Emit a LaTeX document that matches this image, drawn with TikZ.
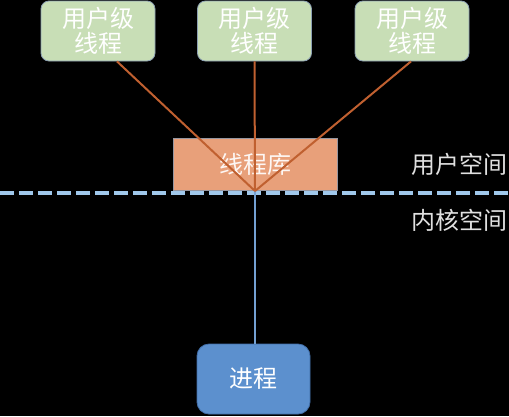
\documentclass[tikz,border=0pt]{standalone}
\usepackage{fontspec}
\newfontfamily\cjk{Noto Sans CJK SC}
\definecolor{ulgreen}{RGB}{200,222,182}
\definecolor{ulborder}{RGB}{140,160,178}
\definecolor{libfill}{RGB}{232,160,122}
\definecolor{libborder}{RGB}{150,150,160}
\definecolor{linkred}{RGB}{192,96,48}
\definecolor{dashblue}{RGB}{160,200,235}
\definecolor{procfill}{RGB}{92,144,206}
\definecolor{procborder}{RGB}{66,110,168}
\definecolor{procline}{RGB}{115,160,210}
\tikzset{
  ulbox/.style={draw=ulborder, fill=ulgreen, rounded corners=8pt, line width=0.8pt,
    minimum width=114pt, minimum height=60pt, text=white, align=center,
    font=\cjk\fontsize{24}{25}\selectfont},
  libbox/.style={draw=libborder, fill=libfill, line width=0.8pt,
    minimum width=164pt, minimum height=52pt, text=white!92!libfill,
    font=\cjk\fontsize{24}{25}\selectfont},
  procbox/.style={draw=procborder, fill=procfill, rounded corners=12pt, line width=0.8pt,
    minimum width=113pt, minimum height=70pt, text=white,
    font=\cjk\fontsize{24}{25}\selectfont},
  spacelabel/.style={text=white!88!black, font=\cjk\fontsize{24}{28}\selectfont},
  link/.style={draw=linkred, line width=2pt}
}
\begin{document}
\begin{tikzpicture}[x=1pt, y=-1pt]
\fill[black] (0,0) rectangle (509,416);
\useasboundingbox (0,0) rectangle (509,416);
% user level threads
\node[ulbox] (t1) at (98,31) {用户级\\线程};
\node[ulbox] (t2) at (254.5,31) {用户级\\线程};
\node[ulbox] (t3) at (412,31) {用户级\\线程};
\node[libbox] (lib) at (255,164) {线程库};
\node[procbox] (proc) at (253.5,379) {进程};
\coordinate (join) at (255,191);
\coordinate (left) at (0,193);
\coordinate (right) at (509,193);
% boundary
\draw[dashblue, line width=4pt, dash pattern=on 14pt off 5pt] (left) -- (right);
\draw[procline, line width=2pt] (join) -- (proc.north -| join);
\draw[link] (t1.south -| 117,0) -- (join);
\draw[link] (t2.south) -- (join);
\draw[link] (t3.south -| 411,0) -- (join);
\node[spacelabel] (us) at (459,164) {用户空间};
\node[spacelabel] (ks) at (459,220) {内核空间};
\end{tikzpicture}
\end{document}
